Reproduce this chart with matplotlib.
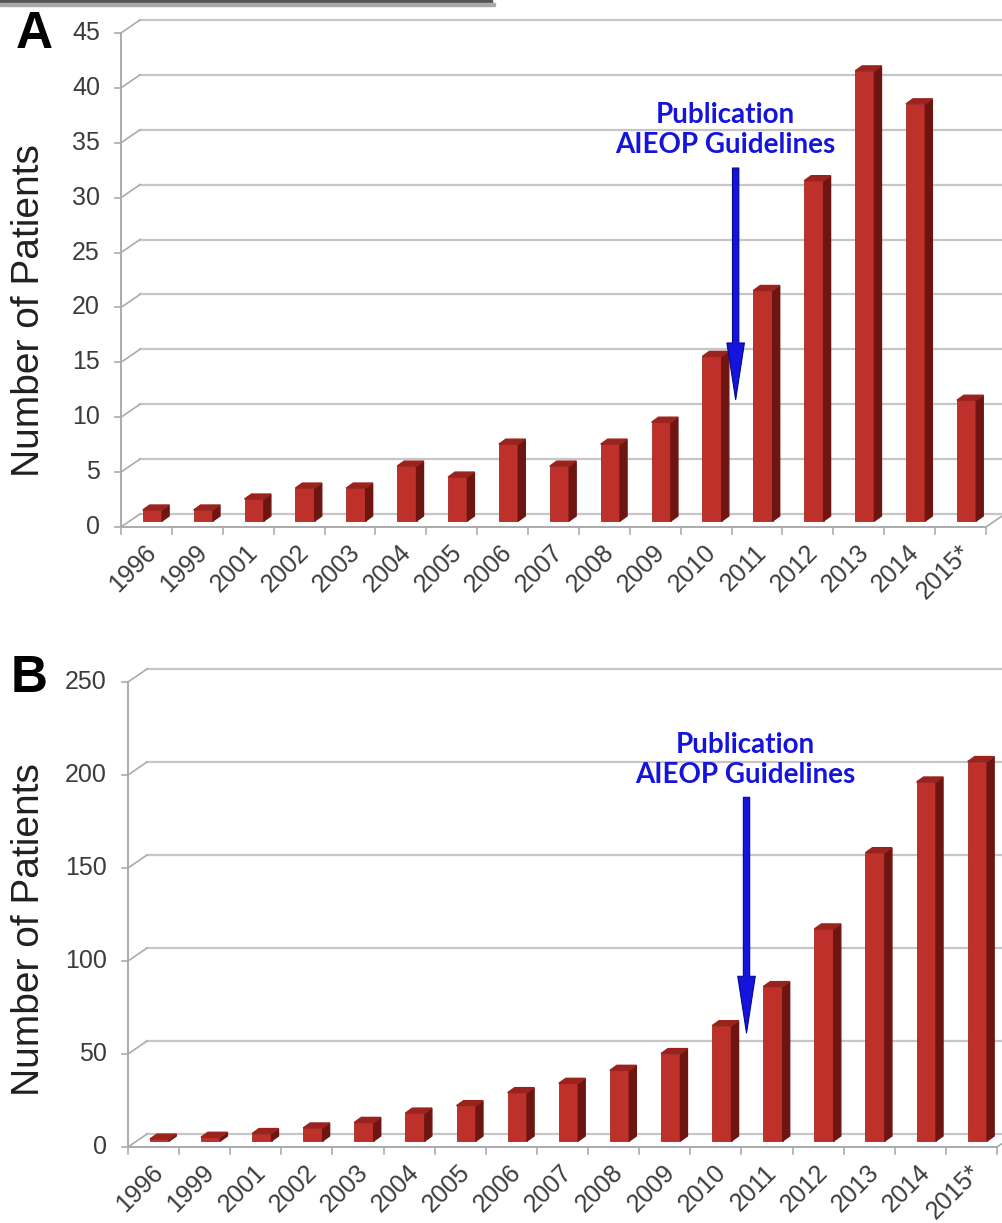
import matplotlib.pyplot as plt
from matplotlib.patches import Polygon, Rectangle

# --- data ---
years = ["1996", "1999", "2001", "2002", "2003", "2004", "2005", "2006", "2007",
         "2008", "2009", "2010", "2011", "2012", "2013", "2014", "2015*"]
patients_per_year = [1, 1, 2, 3, 3, 5, 4, 7, 5, 7, 9, 15, 21, 31, 41, 38, 11]
patients_total = [1, 2, 4, 7, 10, 15, 19, 26, 31, 38, 47, 62, 83, 114, 155, 193, 204]

plt.rcParams["font.family"] = ["Liberation Sans", "DejaVu Sans"]

W, H, DPI = 1003, 1223, 100
fig = plt.figure(figsize=(W / DPI, H / DPI), dpi=DPI)

FRONT = "#BE302A"
SIDE = "#6E1511"
TOP = "#9A231E"
GRID = "#C6C6C6"
AXIS = "#ABABAB"
TEXT = "#3C3C3C"
BLUE = "#1414DC"

WALL = (19, 13)        # back wall offset in px
BAR_SHIFT = (6, 6)     # bars sit a bit behind the front edge of the floor
BAR_DEPTH = (7, 5)
BAR_WIDTH = 0.38


def px(ax, dx, dy):
    """pixel offset -> data offset"""
    x0, y0 = ax.transData.transform((0, 0))
    return ax.transData.inverted().transform((x0 + dx, y0 + dy))


def draw_panel(box, values, ymax, ystep, letter, letter_xy, ylabel_y, note_xy, arrow_x, arrow_y):
    left, top, right, bottom = box
    ax = fig.add_axes([left / W, 1 - bottom / H, (right - left) / W, (bottom - top) / H])
    n = len(values)
    ax.set_xlim(0, n)
    ax.set_ylim(0, ymax)
    ax.axis("off")

    wx, wy = px(ax, *WALL)
    tick_x = px(ax, -6, 0)[0]
    lab_x = px(ax, -21, 0)[0]

    # --- back wall grid + left wall ---
    for y in range(0, ymax + 1, ystep):
        ax.plot([wx, n + 2], [y + wy, y + wy], color=GRID, lw=1.6, clip_on=False, zorder=1)
        ax.plot([0, wx], [y, y + wy], color=AXIS, lw=1.2, clip_on=False, zorder=1)
        ax.plot([tick_x, 0], [y, y], color=AXIS, lw=1.2, clip_on=False, zorder=1)
        ax.text(lab_x, y, str(y), ha="right", va="center", fontsize=18, color=TEXT)
    ax.plot([0, 0], [0, ymax], color=AXIS, lw=1.4, clip_on=False, zorder=1)

    # --- floor ---
    ty = px(ax, 0, -7)[1]
    ax.plot([0, n], [0, 0], color=AXIS, lw=1.4, clip_on=False, zorder=1)
    ax.plot([n, n + wx], [0, wy], color=AXIS, lw=1.2, clip_on=False, zorder=1)
    for i in range(n + 1):
        ax.plot([i, i], [0, ty], color=AXIS, lw=1.2, clip_on=False, zorder=1)

    # --- bars ---
    sx, sy = px(ax, *BAR_SHIFT)
    dx, dy = px(ax, *BAR_DEPTH)
    xs = [i + (1 - BAR_WIDTH) / 2 + sx for i in range(n)]
    ax.bar(xs, values, width=BAR_WIDTH, bottom=sy, align="edge",
           color=FRONT, edgecolor="#A52A24", lw=0.6, zorder=3)
    for x, v in zip(xs, values):
        xr = x + BAR_WIDTH
        ax.add_patch(Polygon([(xr, sy), (xr + dx, sy + dy), (xr + dx, sy + v + dy), (xr, sy + v)],
                             closed=True, color=SIDE, zorder=3))
        ax.add_patch(Polygon([(x, sy + v), (x + dx, sy + v + dy), (xr + dx, sy + v + dy), (xr, sy + v)],
                             closed=True, color=TOP, zorder=3))

    # --- year labels ---
    ox, oy = px(ax, 6, -22)
    for i, lab in enumerate(years):
        ax.text(i + 0.5 + ox, oy, lab, rotation=45, rotation_mode="anchor",
                ha="right", va="center", fontsize=18, color=TEXT)

    # --- guidelines note ---
    ax.text(note_xy[0], note_xy[1], "Publication\nAIEOP Guidelines", ha="center", va="center",
            fontsize=20, fontweight="bold", color=BLUE, family="Lato", linespacing=1.2, zorder=5)
    ax.annotate("", xy=(arrow_x, arrow_y[1]), xytext=(arrow_x, arrow_y[0]),
                arrowprops=dict(arrowstyle="simple,head_width=1.05,head_length=3.4,tail_width=0.38",
                                mutation_scale=12, fc=BLUE, ec="#06068A", lw=0.8,
                                shrinkA=0, shrinkB=0),
                zorder=5)

    fig.text(letter_xy[0] / W, 1 - letter_xy[1] / H, letter, fontsize=37, fontweight="bold",
             ha="center", va="center", color="black")
    fig.text(29 / W, 1 - ylabel_y / H, "Number of Patients", rotation=90, fontsize=28,
             ha="center", va="center", color="#202020")
    return ax


draw_panel((121, 33, 986, 527), patients_per_year, 45, 5, "A", (34, 35), 311,
           (11.87, 36.2), 12.08, (32.7, 11.6))
draw_panel((128, 682, 997, 1147), patients_total, 250, 50, "B", (29, 679), 930,
           (12.07, 208), 12.1, (188, 61.3))

# --- strip along the top edge ---
fig.patches.append(Rectangle((0, 1 - 3 / H), 492 / W, 3 / H, transform=fig.transFigure,
                             color="#555555", zorder=10))
fig.patches.append(Rectangle((0, 1 - 6 / H), 495 / W, 3 / H, transform=fig.transFigure,
                             color="#A9A9A9", zorder=10))

fig.savefig("out.png", dpi=DPI, facecolor="white")
plt.close(fig)
